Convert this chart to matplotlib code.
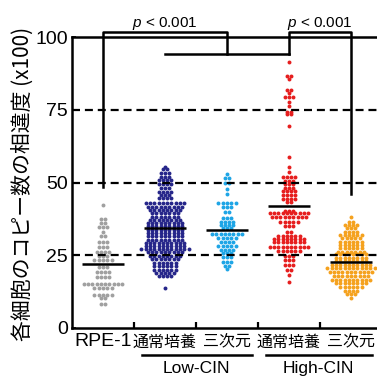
import numpy as np
import matplotlib
matplotlib.use('Agg')
import matplotlib.pyplot as plt
from matplotlib.transforms import blended_transform_factory

plt.rcParams['font.family'] = ['Liberation Sans', 'Noto Sans CJK JP']
plt.rcParams['mathtext.fontset'] = 'custom'
plt.rcParams['mathtext.rm'] = 'Liberation Sans'
plt.rcParams['mathtext.it'] = 'Liberation Sans:italic'

# Categories / labels
tick_labels = ['RPE-1', '通常培養', '三次元', '通常培養', '三次元']
groups = ['Low-CIN', 'High-CIN']
colors = ['#a0a0a0', '#26268a', '#1ea5e6', '#e61e1e', '#f5a21e']

# Values (level, number of dots in the row)
rpe_levels = [42.3, 37.5, 36.2, 34.8, 33.1, 31.6, 29.7, 27.9, 26.2, 24.6, 23.4,
              20.9, 19.3, 17.6, 15.1, 13.6, 11.3, 10.2, 8.2]
rpe_counts = [1, 2, 2, 3, 1, 2, 3, 3, 4, 3, 5, 3, 4, 4, 10, 5, 5, 2, 2]

low2d_levels = [55.4, 54.5, 53.2, 52.0, 50.9, 49.5, 48.0, 46.8, 45.7, 44.6, 42.8,
                41.7, 40.5, 39.4, 38.2, 37.1, 36.0, 34.9, 33.8, 32.6, 31.5, 30.4,
                29.3, 28.2, 27.1, 26.0, 24.8, 23.6, 22.4, 21.2, 20.0, 18.8, 17.8, 13.6]
low2d_counts = [1, 2, 3, 3, 4, 4, 3, 4, 3, 4, 10, 9, 8, 7, 7, 8, 9, 9, 9, 9, 9, 9,
                10, 10, 12, 9, 8, 7, 6, 6, 6, 5, 4, 1]

low3d_levels = [52.8, 51.4, 49.7, 47.7, 46.0, 42.8, 41.5, 40.0, 37.7, 36.5, 35.4,
                34.2, 32.2, 30.8, 29.7, 28.2, 26.8, 25.7, 24.3, 22.8, 21.3, 20.2]
low3d_counts = [1, 2, 2, 1, 1, 5, 3, 2, 3, 4, 4, 3, 8, 5, 4, 5, 4, 3, 3, 3, 2, 1]

high2d_levels = [91.5, 86.6, 85.6, 81.8, 80.6, 79.5, 77.8, 76.4, 74.3, 73.4, 69.5,
                 58.9, 55.4, 53.7, 51.8, 50.5, 49.4, 48.2, 47.1, 45.7, 44.2, 43.2,
                 40.2, 39.4, 38.0, 36.5, 35.1, 33.1, 31.7, 30.6, 29.4, 27.9, 26.6,
                 24.7, 23.4, 21.6, 19.9, 18.2, 15.7]
high2d_counts = [1, 2, 1, 2, 1, 3, 1, 1, 2, 2, 1, 1, 1, 1, 4, 3, 3, 3, 4, 4, 4, 2,
                 3, 10, 9, 5, 3, 2, 6, 8, 8, 10, 6, 3, 3, 3, 2, 1, 1]

high3d_levels = [38.0, 36.5, 35.4, 34.2, 33.1, 32.0, 30.8, 29.7, 28.5, 27.4, 26.2,
                 25.3, 24.2, 23.1, 21.6, 20.5, 19.3, 18.0, 16.5, 15.4, 14.2, 12.8,
                 11.6, 10.2]
high3d_counts = [1, 2, 4, 3, 4, 6, 5, 6, 6, 6, 7, 8, 8, 8, 10, 12, 11, 9, 10, 8, 6,
                 4, 3, 1]

means = [22.0, 34.3, 33.6, 41.9, 22.7]

rows = [(rpe_levels, rpe_counts), (low2d_levels, low2d_counts),
        (low3d_levels, low3d_counts), (high2d_levels, high2d_counts),
        (high3d_levels, high3d_counts)]


def row_swarm(levels, counts, d=4.3, sx=62.0):
    # dots of one row sit side by side, centred on the category
    xs, ys = [], []
    for lev, n in zip(levels, counts):
        off = (np.arange(n) - (n - 1) / 2) * d / sx
        xs.extend(off)
        ys.extend([lev] * n)
    return np.array(xs), np.array(ys)


fig = plt.figure(figsize=(3.77, 3.78), dpi=100)
ax = fig.add_axes([72 / 377, 50 / 378, 310 / 377, 291 / 378])
ax.set_xlim(-0.5, 4.5)
ax.set_ylim(0, 100)

for y in [25, 50, 75]:
    ax.axhline(y, color='k', lw=1.6, ls=(0, (3.6, 2.2)), zorder=3)

for k, (levels, counts) in enumerate(rows):
    dx, vals = row_swarm(levels, counts)
    ax.scatter(k + dx, vals, s=8, color=colors[k], linewidths=0, zorder=2)
    ax.hlines(means[k], k - 0.34, k + 0.34, color='k', lw=1.8, zorder=4)

# significance brackets
lw = 1.8
ax.plot([0, 0, 2, 2], [48.5, 101.8, 101.8, 94], color='k', lw=lw, clip_on=False, zorder=5)
ax.plot([1, 3], [94, 94], color='k', lw=lw, clip_on=False, zorder=5)
ax.plot([3, 3, 4, 4], [94, 101.8, 101.8, 46], color='k', lw=lw, clip_on=False, zorder=5)
ax.text(1, 103.6, r'$p$ < 0.001', ha='center', va='baseline', fontsize=11)
ax.text(3.5, 103.6, r'$p$ < 0.001', ha='center', va='baseline', fontsize=11)

for s in ['left', 'bottom', 'top']:
    ax.spines[s].set_linewidth(1.8)
ax.spines['right'].set_visible(False)

ax.set_yticks([0, 25, 50, 75, 100])
ax.tick_params(axis='y', direction='in', length=3, width=1.2, labelsize=14, pad=3)
ax.set_xticks([0.5, 1.5, 2.5, 3.5])
ax.set_xticklabels([])
ax.tick_params(axis='x', direction='in', length=4, width=1.6)

tr = blended_transform_factory(ax.transData, ax.transAxes)
for k, lab in enumerate(tick_labels):
    if k == 0:
        ax.text(k, -0.048, lab, transform=tr, ha='center', va='center', fontsize=14)
    else:
        ax.text(k, -0.048, lab, transform=tr, ha='center', va='center', fontsize=11.5,
                family=['Noto Sans CJK JP'])

for (x0, x1), g in zip([(0.63, 2.40), (2.63, 4.34)], groups):
    ax.plot([x0, x1], [-0.094, -0.094], transform=tr, color='k', lw=1.8, clip_on=False)
    ax.text((x0 + x1) / 2 - 0.01, -0.155, g, transform=tr, ha='center', va='baseline',
            fontsize=12.5)

fig.text(23 / 377, 1 - 184 / 378, '各細胞のコピー数の相違度 (x100)', rotation=90,
         ha='center', va='center', fontsize=15, family=['Noto Sans CJK JP'])

fig.savefig('out.png', dpi=100)
